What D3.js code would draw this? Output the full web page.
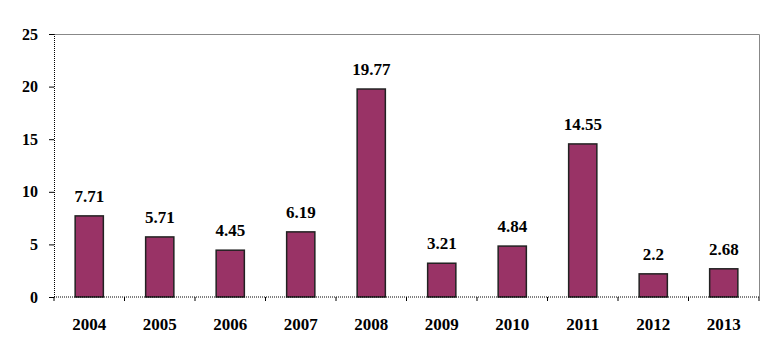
<!DOCTYPE html>
<html>
<head>
<meta charset="utf-8">
<script src="https://cdn.jsdelivr.net/npm/d3@7"></script>
<style>
  body { margin: 0; background: #fff; }
  text { font-family: "Liberation Serif", "DejaVu Serif", serif; font-weight: bold; fill: #000; }
</style>
</head>
<body>
<div id="chart"></div>
<script>
'use strict';
var years = ["2004", "2005", "2006", "2007", "2008", "2009", "2010", "2011", "2012", "2013"];
var values = [7.71, 5.71, 4.45, 6.19, 19.77, 3.21, 4.84, 14.55, 2.2, 2.68];
var yTicks = [0, 5, 10, 15, 20, 25];

var width = 777, height = 364;
var margin = {top: 34, right: 18, bottom: 67, left: 54};
var w = width - margin.left - margin.right,
    h = height - margin.top - margin.bottom;

var svg = d3.select("#chart").append("svg")
    .attr("width", width)
    .attr("height", height);

var g = svg.append("g")
    .attr("transform", "translate(" + margin.left + "," + margin.top + ")");

var x = d3.scaleBand().domain(years).range([0, w]).paddingInner(0.6).paddingOuter(0.3);
var y = d3.scaleLinear().domain([0, 25]).range([h, 0]);

// plot frame (top and right)
g.append("path")
    .attr("d", "M0,0.5H" + (w + 0.5) + "V" + h)
    .attr("fill", "none")
    .attr("stroke", "#888")
    .attr("stroke-width", 1);

// bars
g.selectAll(".bar")
    .data(values)
    .enter().append("rect")
    .attr("class", "bar")
    .attr("x", function (d, i) { return x(years[i]); })
    .attr("width", x.bandwidth())
    .attr("y", function (d) { return y(d); })
    .attr("height", function (d) { return h - y(d); })
    .attr("fill", "#993366")
    .attr("stroke", "#222")
    .attr("stroke-width", 1.5);

// value labels
g.selectAll(".val")
    .data(values)
    .enter().append("text")
    .attr("class", "val")
    .attr("x", function (d, i) { return x(years[i]) + x.bandwidth() / 2; })
    .attr("y", function (d) { return y(d) - 14; })
    .attr("text-anchor", "middle")
    .attr("font-size", 17)
    .text(function (d) { return d; });

// y axis
var yAxis = g.append("g")
    .call(d3.axisLeft(y).tickValues(yTicks).tickSize(5).tickPadding(11));
yAxis.select(".domain").attr("stroke", "#000").attr("stroke-dasharray", "1,1");
yAxis.selectAll("text").attr("font-size", 16).style("font-family", "Liberation Serif").style("font-weight", "bold");

// x axis with ticks at category boundaries
var bounds = d3.range(years.length + 1).map(function (i) { return i * w / years.length; });
var xAxis = g.append("g").attr("transform", "translate(0," + h + ")");
xAxis.append("line")
    .attr("x1", 0).attr("x2", w)
    .attr("stroke", "#000")
    .attr("stroke-dasharray", "1,1");
xAxis.selectAll(".xtick")
    .data(bounds)
    .enter().append("line")
    .attr("x1", function (d) { return d; })
    .attr("x2", function (d) { return d; })
    .attr("y1", 0).attr("y2", 4)
    .attr("stroke", "#000");
xAxis.selectAll(".xlab")
    .data(years)
    .enter().append("text")
    .attr("x", function (d) { return x(d) + x.bandwidth() / 2; })
    .attr("y", 33)
    .attr("text-anchor", "middle")
    .attr("font-size", 17)
    .text(function (d) { return d; });
</script>
</body>
</html>
